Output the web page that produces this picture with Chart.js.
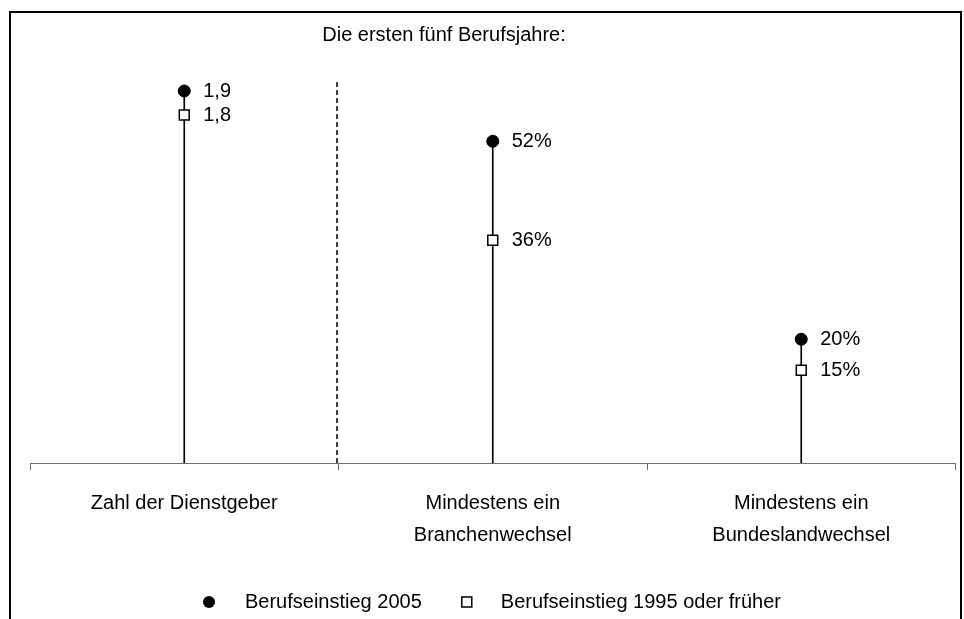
<!DOCTYPE html>
<html>
<head>
<meta charset="utf-8">
<script src="https://cdn.jsdelivr.net/npm/chart.js@4/dist/chart.umd.min.js"></script>
<style>
  html, body { margin: 0; padding: 0; background: #fff; }
  #wrap { width: 964px; height: 619px; }
</style>
</head>
<body>
<div id="wrap"><canvas id="chart" width="964" height="619"></canvas></div>
<script>
// Daten
const categories = [
    ['Zahl der Dienstgeber'],
    ['Mindestens ein', 'Branchenwechsel'],
    ['Mindestens ein', 'Bundeslandwechsel']
];
const seriesNames = ['Berufseinstieg 2005', 'Berufseinstieg 1995 oder früher'];
const einstieg2005 = [1.9, 52, 20];       // erster Wert: Anzahl, Rest: Prozent
const einstieg1995 = [1.8, 36, 15];
const labels2005 = ['1,9', '52%', '20%'];
const labels1995 = ['1,8', '36%', '15%'];
const chartTitle = 'Die ersten fünf Berufsjahre:';

const FONT = '"Liberation Sans", Arial, sans-serif';

// Kategorie 0 auf eigener Achse (Anzahl), die anderen auf Prozentachse
const onCount = arr => arr.map((v, i) => i === 0 ? v : null);
const onPct = arr => arr.map((v, i) => i === 0 ? null : v);
const stemTops = einstieg2005.map((v, i) => Math.max(v, einstieg1995[i]));

const stemStyle = {
    type: 'bar',
    backgroundColor: '#000',
    borderWidth: 0,
    barThickness: 1,
    grouped: false,
    order: 3
};
const circleStyle = {
    type: 'line',
    showLine: false,
    pointStyle: 'circle',
    pointRadius: 6,
    pointHoverRadius: 6,
    pointBackgroundColor: '#000',
    pointBorderColor: '#000',
    pointBorderWidth: 1,
    order: 1
};
const squareStyle = {
    type: 'line',
    showLine: false,
    pointStyle: 'rect',
    pointRadius: 7,
    pointHoverRadius: 7,
    pointBackgroundColor: '#fff',
    pointBorderColor: '#000',
    pointBorderWidth: 1.5,
    order: 2
};

const datasets = [
    Object.assign({ label: 'stem', data: onPct(stemTops), yAxisID: 'y' }, stemStyle),
    Object.assign({ label: 'stem', data: onCount(stemTops), yAxisID: 'y2' }, stemStyle),
    Object.assign({ label: seriesNames[0], data: onPct(einstieg2005), yAxisID: 'y', valueLabels: labels2005 }, circleStyle),
    Object.assign({ label: seriesNames[0], data: onCount(einstieg2005), yAxisID: 'y2', valueLabels: labels2005 }, circleStyle),
    Object.assign({ label: seriesNames[1], data: onPct(einstieg1995), yAxisID: 'y', valueLabels: labels1995 }, squareStyle),
    Object.assign({ label: seriesNames[1], data: onCount(einstieg1995), yAxisID: 'y2', valueLabels: labels1995 }, squareStyle)
];

// Rahmen, Trennlinie, Beschriftungen, Titel und Legende
const decorations = {
    id: 'decorations',
    beforeDraw(chart) {
        const c = chart.ctx;
        c.save();
        c.fillStyle = '#fff';
        c.fillRect(0, 0, chart.width, chart.height);
        c.strokeStyle = '#000';
        c.lineWidth = 2;
        c.beginPath();
        c.moveTo(10, chart.height + 2);
        c.lineTo(10, 12);
        c.lineTo(961, 12);
        c.lineTo(961, chart.height + 2);
        c.stroke();
        c.restore();
    },
    afterDatasetsDraw(chart) {
        const c = chart.ctx;
        const xs = chart.scales.x;
        c.save();
        // gestrichelte Trennlinie zwischen Kategorie 1 und 2
        const sepX = Math.round((xs.getPixelForValue(0) + xs.getPixelForValue(1)) / 2) - 2;
        c.strokeStyle = '#000';
        c.lineWidth = 1.5;
        c.setLineDash([5, 3]);
        c.beginPath();
        c.moveTo(sepX, 82);
        c.lineTo(sepX, chart.chartArea.bottom);
        c.stroke();
        c.setLineDash([]);

        // Werte neben den Punkten
        c.fillStyle = '#000';
        c.font = '20px ' + FONT;
        c.textBaseline = 'middle';
        c.textAlign = 'left';
        chart.data.datasets.forEach((ds, di) => {
            if (!ds.valueLabels) return;
            chart.getDatasetMeta(di).data.forEach((pt, i) => {
                if (ds.data[i] === null) return;
                c.fillText(ds.valueLabels[i], pt.x + 19, pt.y);
            });
        });
        c.restore();
    },
    afterDraw(chart) {
        const c = chart.ctx;
        c.save();
        c.fillStyle = '#000';
        c.font = '20px ' + FONT;
        c.textBaseline = 'middle';
        c.textAlign = 'center';
        c.fillText(chartTitle, 444, 35);

        // Legende
        c.textAlign = 'left';
        const ly = 602;
        let x = 209;
        c.beginPath();
        c.arc(x, ly, 6, 0, Math.PI * 2);
        c.fill();
        x += 36;
        c.fillText(seriesNames[0], x, ly);
        x += c.measureText(seriesNames[0]).width + 45;
        c.strokeStyle = '#000';
        c.lineWidth = 1.5;
        c.fillStyle = '#fff';
        c.fillRect(x - 5, ly - 5, 10, 10);
        c.strokeRect(x - 5, ly - 5, 10, 10);
        c.fillStyle = '#000';
        x += 34;
        c.fillText(seriesNames[1], x, ly);
        c.restore();
    }
};

new Chart(document.getElementById('chart'), {
    type: 'bar',
    data: {
        labels: categories,
        datasets: datasets
    },
    options: {
        responsive: false,
        devicePixelRatio: 1,
        animation: false,
        layout: { padding: { left: 30, right: 7, top: 67, bottom: 0 } },
        plugins: {
            legend: { display: false },
            title: { display: false },
            tooltip: { enabled: false }
        },
        scales: {
            x: {
                offset: true,
                grid: {
                    display: true,
                    offset: true,
                    drawOnChartArea: false,
                    drawTicks: true,
                    tickLength: 7,
                    color: '#6e6e6e'
                },
                border: { display: true, color: '#6e6e6e', width: 1 },
                ticks: {
                    color: '#000',
                    font: { family: FONT, size: 20, lineHeight: 1.6 },
                    padding: 17,
                    maxRotation: 0,
                    autoSkip: false
                },
                afterFit(scale) { scale.height = 156; }
            },
            y: { display: false, min: 0, max: 64 },
            y2: { display: false, min: 0.35, max: 2.0 }
        }
    },
    plugins: [decorations]
});
</script>
</body>
</html>
